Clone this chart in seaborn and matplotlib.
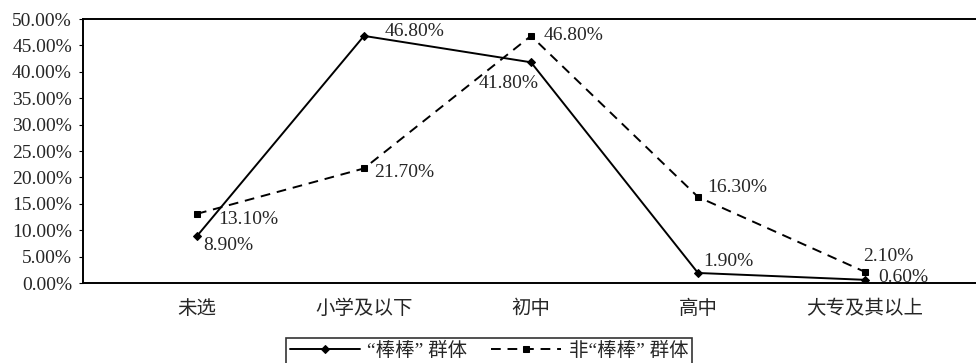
"""
Line chart: education level distribution of two groups ("棒棒" vs non-"棒棒").
"""

import matplotlib
matplotlib.use("Agg")
import matplotlib.pyplot as plt
import seaborn as sns
import pandas as pd

# Data
CATEGORIES = ["未选", "小学及以下", "初中", "高中", "大专及其以上"]
BANGBANG = [8.9, 46.8, 41.8, 1.9, 0.6]
NON_BANGBANG = [13.1, 21.7, 46.8, 16.3, 2.1]
SERIES_NAMES = ["\u201c棒棒\u201d 群体", "非\u201c棒棒\u201d 群体"]
Y_TICKS = [0, 5, 10, 15, 20, 25, 30, 35, 40, 45, 50]

# label offsets in pixels (dx, dy) for each point
BB_OFFSETS = [(6, -9), (21, 4), (-22, -21), (5, 11), (13, 2)]
BB_HA = ["left", "left", "center", "left", "left"]
NB_OFFSETS = [(21, -6), (10, -4), (13, 0), (9, 9), (-2, 15)]
NB_HA = ["left", "left", "left", "left", "left"]

FONT = ["Liberation Serif", "Noto Sans CJK SC"]
FONTSIZE = 14


def main():
    sns.set_style("white")
    plt.rcParams["font.family"] = FONT
    plt.rcParams["axes.unicode_minus"] = False

    df = pd.DataFrame({
        "x": list(range(len(CATEGORIES))) * 2,
        "value": BANGBANG + NON_BANGBANG,
        "group": [SERIES_NAMES[0]] * len(BANGBANG) + [SERIES_NAMES[1]] * len(NON_BANGBANG),
    })

    fig = plt.figure(figsize=(9.76, 3.63), dpi=100)
    ax = fig.add_axes([83 / 976, 1 - 283 / 363, 1 - 83 / 976, (283 - 19) / 363])

    sns.lineplot(
        data=df[df["group"] == SERIES_NAMES[0]], x="x", y="value", ax=ax,
        color="black", linewidth=1.4, marker="D", markersize=4.5,
        markeredgecolor="black", label=SERIES_NAMES[0],
    )
    sns.lineplot(
        data=df[df["group"] == SERIES_NAMES[1]], x="x", y="value", ax=ax,
        color="black", linewidth=1.4, marker="s", markersize=5,
        markeredgecolor="black", linestyle=(0, (5, 3.5)), label=SERIES_NAMES[1],
    )

    # data labels
    for i, v in enumerate(BANGBANG):
        ax.annotate(f"{v:.2f}%", (i, v), xytext=BB_OFFSETS[i], textcoords="offset pixels",
                    ha=BB_HA[i], va="center", fontsize=FONTSIZE)
    for i, v in enumerate(NON_BANGBANG):
        ax.annotate(f"{v:.2f}%", (i, v), xytext=NB_OFFSETS[i], textcoords="offset pixels",
                    ha=NB_HA[i], va="center", fontsize=FONTSIZE)

    # axes
    ax.set_ylim(0, 50)
    ax.set_yticks(Y_TICKS)
    ax.set_yticklabels([f"{t:.2f}%" for t in Y_TICKS], fontsize=FONTSIZE)
    ax.set_xlim(-(197 - 83) / 167, 4 + (976 - 865) / 167)
    ax.set_xticks(range(len(CATEGORIES)))
    ax.set_xticklabels(CATEGORIES, fontsize=FONTSIZE)
    ax.set_xticks([0.44, 1.59, 2.62, 3.69], minor=True)
    ax.tick_params(axis="x", which="major", length=0, pad=12)
    ax.tick_params(axis="x", which="minor", direction="in", length=4, width=0.8, color="black")
    ax.tick_params(axis="y", which="major", direction="out", length=3, width=0.8,
                   color="black", left=True, pad=5)
    ax.set_xlabel("")
    ax.set_ylabel("")
    for side in ["left", "bottom", "top"]:
        ax.spines[side].set_color("black")
        ax.spines[side].set_linewidth(1.4)
    ax.spines["right"].set_visible(False)

    # legend
    ax.get_legend().remove()
    handles, labels = ax.get_legend_handles_labels()
    leg = fig.legend(handles, labels, loc="center", bbox_to_anchor=(489 / 976, 1 - 351 / 363),
                     ncol=2, frameon=True, fancybox=False, fontsize=FONTSIZE,
                     handlelength=3.6, columnspacing=1.2, handletextpad=0.4,
                     borderpad=0.2, borderaxespad=0, numpoints=1)
    leg.get_frame().set_edgecolor("black")
    leg.get_frame().set_linewidth(1.2)

    fig.savefig("out.png", dpi=100)
    plt.close(fig)


if __name__ == "__main__":
    main()
